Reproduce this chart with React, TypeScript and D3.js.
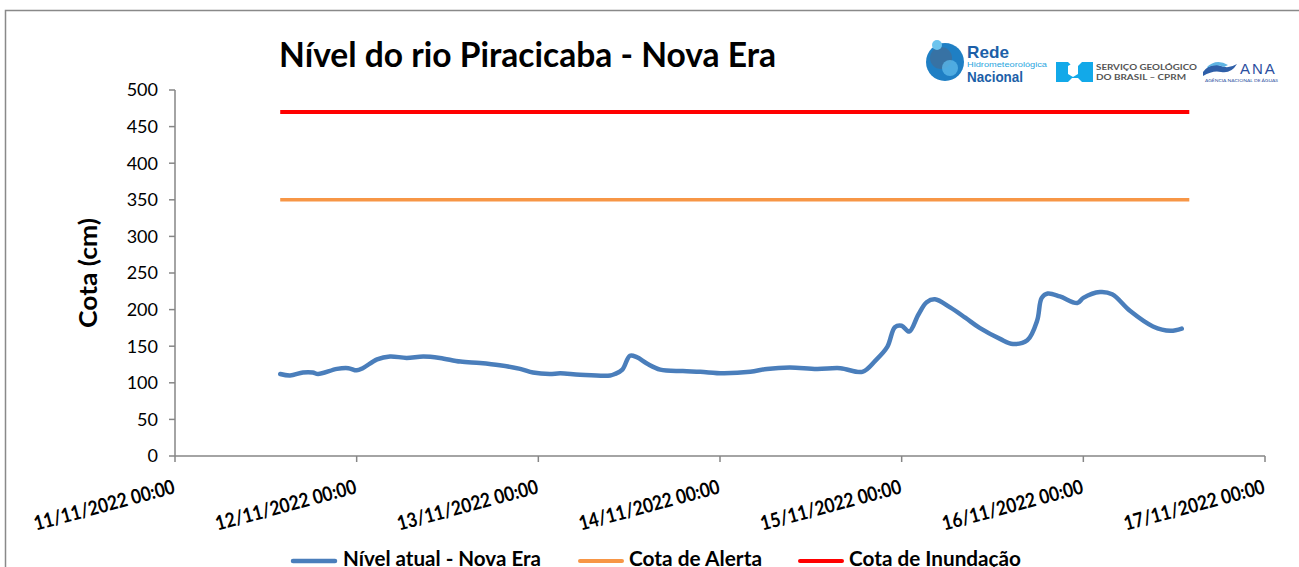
import React from "react";
import * as d3 from "d3";

const W = 1299;
const H = 567;

// Observed series: hours since 11/11/2022 00:00 and level (cm)
const hoursSinceStart = [
  13.9, 15.2, 16.9, 18.2, 18.9, 21.4, 22.9, 24.0, 24.8, 26.7, 28.4, 30.6, 32.8, 35.0,
  37.7, 40.3, 42.9, 45.6, 47.3, 49.5, 50.9, 53.5, 57.5, 58.1, 59.1, 60.1, 61.0, 62.4,
  64.1, 67.1, 69.4, 72.4, 76.0, 78.2, 81.2, 84.8, 87.9, 90.8, 92.5, 94.1, 95.1, 96.0,
  97.0, 98.2, 99.3, 100.4, 102.4, 104.4, 106.3, 109.0, 110.7, 112.6, 113.9, 114.5,
  115.3, 116.9, 119.2, 120.0, 122.2, 123.8, 126.2, 129.2, 131.5, 133.0,
];
const nivelAtual = [
  112, 110, 114, 114, 112, 119, 120, 117, 120, 132, 136, 134, 136, 134,
  129, 127, 124, 119, 114, 112, 113, 111, 110, 112, 118, 137, 135, 126,
  118, 116, 115, 113, 115, 119, 121, 119, 120, 115, 130, 149, 176, 178,
  170, 193, 210, 214, 203, 189, 175, 160, 153, 158, 185, 216,
  222, 218, 209, 216, 224, 221, 198, 177, 171, 174,
];
const thresholdHours = [13.9, 134.0];
const cotaAlerta = [350, 350];
const cotaInundacao = [470, 470];

const yTicks = [0, 50, 100, 150, 200, 250, 300, 350, 400, 450, 500];
const seriesNames = ["Nível atual - Nova Era", "Cota de Alerta", "Cota de Inundação"];
const seriesColors = ["#4a7ebb", "#f79646", "#ff0000"];

const START = new Date(2022, 10, 11, 0, 0);
const END = new Date(2022, 10, 17, 0, 0);
const toDate = (h: number) => new Date(START.getTime() + h * 3600e3);

const FONT = "Lato, 'Open Sans', sans-serif";

export default function App() {
  const left = 175, right = 1265, top = 90, bottom = 456;
  const x = d3.scaleTime().domain([START, END]).range([left, right]);
  const y = d3.scaleLinear().domain([0, 500]).range([bottom, top]);
  const xTicks = x.ticks(d3.timeDay.every(1)!);
  const fmt = d3.timeFormat("%d/%m/%Y %H:%M");

  const line = d3
    .line<[number, number]>()
    .x((d) => x(toDate(d[0])))
    .y((d) => y(d[1]))
    .curve(d3.curveCatmullRom.alpha(0.5));
  const straight = d3
    .line<[number, number]>()
    .x((d) => x(toDate(d[0])))
    .y((d) => y(d[1]));

  const mainData = hoursSinceStart.map((h, i) => [h, nivelAtual[i]] as [number, number]);
  const alertData = thresholdHours.map((h, i) => [h, cotaAlerta[i]] as [number, number]);
  const floodData = thresholdHours.map((h, i) => [h, cotaInundacao[i]] as [number, number]);

  const axisColor = "#868686";

  const legendItems = [
    { lx: 293, tx: 343, tl: 198 },
    { lx: 580, tx: 629, tl: 133 },
    { lx: 800, tx: 849, tl: 172 },
  ];

  return (
    <svg
      width={W}
      height={H}
      style={{ position: "fixed", left: 0, top: 0, background: "#fff" }}
      fontFamily={FONT}
    >
      <rect x={0} y={0} width={W} height={H} fill="#fff" />
      <rect x={5.5} y={10.5} width={1320} height={700} fill="none" stroke="#898989" strokeWidth={1.5} />

      {/* Title */}
      <text x={279} y={67} fontSize={35} fontWeight={700} fill="#000" textLength={497} lengthAdjust="spacingAndGlyphs">
        Nível do rio Piracicaba - Nova Era
      </text>

      {/* Logos */}
      <g>
        <circle cx={945} cy={62} r={19} fill="#1f7fc4" />
        <circle cx={941} cy={58} r={11} fill="#3d6f9c" opacity={0.8} />
        <circle cx={950} cy={68} r={8} fill="#5ab6e8" opacity={0.8} />
        <circle cx={937} cy={45} r={5} fill="#6cc4ee" />
        <text x={967} y={58} fontSize={17} fontWeight={700} fill="#1c5fa8" fontFamily="'Liberation Sans Narrow', 'Liberation Sans', sans-serif" textLength={42} lengthAdjust="spacingAndGlyphs">Rede</text>
        <text x={967} y={67} fontSize={7} fill="#2aa6e0" fontFamily="'Liberation Sans Narrow', sans-serif" textLength={80} lengthAdjust="spacingAndGlyphs">Hidrometeorológica</text>
        <text x={967} y={82} fontSize={14} fontWeight={700} fill="#1c5fa8" fontFamily="'Liberation Sans Narrow', 'Liberation Sans', sans-serif" textLength={56} lengthAdjust="spacingAndGlyphs">Nacional</text>

        <path d="M1056,62 h12 l4,4 h6 l4,-4 h11 v20 h-11 l-4,-4 h-6 l-4,4 h-12 z" fill="#12a9e9" />
        <path d="M1068,66 l5,-3 l5,3 v8 l-5,3 l-5,-3 z" fill="#fff" />
        <text x={1096} y={70} fontSize={7.5} fontWeight={700} fill="#555" textLength={101} lengthAdjust="spacingAndGlyphs">SERVIÇO GEOLÓGICO</text>
        <text x={1096} y={80} fontSize={7.5} fontWeight={700} fill="#555" textLength={90} lengthAdjust="spacingAndGlyphs">DO BRASIL – CPRM</text>

        <path d="M1203,72 q8,-10 18,-6 q8,3 16,-2 q-6,10 -16,8 q-8,-2 -18,4 z" fill="#2f5fa8" />
        <path d="M1206,68 q10,-10 22,-3 l-4,2 q-8,-4 -18,1 z" fill="#5fb4e3" />
        <text x={1240} y={74} fontSize={15} fill="#2b4fa0" fontFamily="'Liberation Sans', sans-serif" letterSpacing={2}>ANA</text>
        <text x={1205} y={82} fontSize={4} fill="#2b4fa0" textLength={73} lengthAdjust="spacingAndGlyphs">AGÊNCIA NACIONAL DE ÁGUAS</text>
      </g>

      {/* Y axis */}
      <line x1={left} x2={left} y1={y(500)} y2={bottom} stroke={axisColor} strokeWidth={1.5} />
      {yTicks.map((t) => (
        <g key={t}>
          <line x1={left - 6} x2={left} y1={y(t)} y2={y(t)} stroke={axisColor} strokeWidth={1.5} />
          <text x={158} y={y(t)} dy="0.35em" fontSize={18} textAnchor="end" fill="#000">
            {t}
          </text>
        </g>
      ))}
      <text
        transform={`translate(97,${(top + bottom) / 2}) rotate(-90)`}
        fontSize={25}
        fontWeight={700}
        textAnchor="middle"
        fill="#000"
        textLength={110}
        lengthAdjust="spacingAndGlyphs"
      >
        Cota (cm)
      </text>

      {/* X axis */}
      <line x1={left} x2={right} y1={bottom} y2={bottom} stroke={axisColor} strokeWidth={1.5} />
      {xTicks.map((t, i) => (
        <g key={i}>
          <line x1={x(t)} x2={x(t)} y1={bottom} y2={bottom + 6} stroke={axisColor} strokeWidth={1.5} />
          <text
            transform={`translate(${x(t) + 1},493) rotate(-15)`}
            fontSize={20}
            fontWeight={700}
            textAnchor="end"
            fill="#000"
            textLength={145}
            lengthAdjust="spacingAndGlyphs"
          >
            {fmt(t)}
          </text>
        </g>
      ))}

      {/* Series */}
      <path d={straight(floodData) || ""} fill="none" stroke={seriesColors[2]} strokeWidth={4} />
      <path d={straight(alertData) || ""} fill="none" stroke={seriesColors[1]} strokeWidth={3.5} />
      <path d={line(mainData) || ""} fill="none" stroke={seriesColors[0]} strokeWidth={4.5} strokeLinecap="round" strokeLinejoin="round" />

      {/* Legend */}
      {legendItems.map((it, i) => (
        <g key={i}>
          <line x1={it.lx} x2={it.lx + 42} y1={561} y2={561} stroke={seriesColors[i]} strokeWidth={i === 0 ? 4.5 : 4} strokeLinecap="round" />
          <text x={it.tx} y={566} fontSize={21} fontWeight={700} fill="#000" textLength={it.tl} lengthAdjust="spacingAndGlyphs">
            {seriesNames[i]}
          </text>
        </g>
      ))}
    </svg>
  );
}
